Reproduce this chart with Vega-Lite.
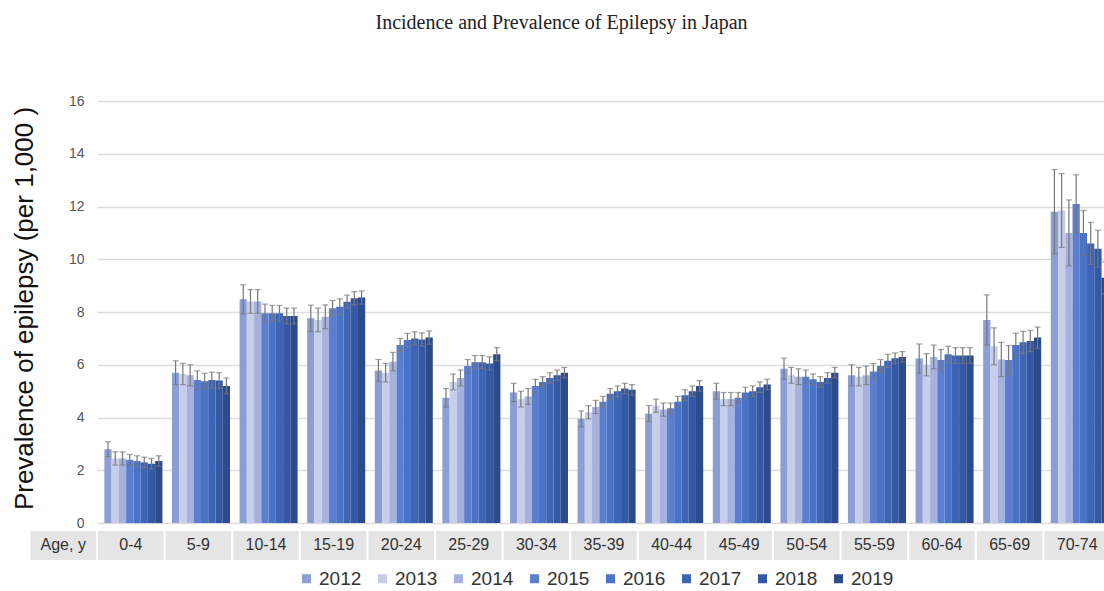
{
  "$schema": "https://vega.github.io/schema/vega-lite/v6.json",
  "width": 1007,
  "height": 459,
  "autosize": {"type": "none"},
  "padding": {"left": 97, "top": 101, "right": 0, "bottom": 31},
  "background": "white",
  "title": {
    "text": "Incidence and Prevalence of Epilepsy in Japan",
    "font": "Liberation Serif",
    "fontSize": 20,
    "fontWeight": "normal",
    "color": "#222222",
    "anchor": "middle",
    "dx": -39,
    "offset": 61
  },
  "config": {
    "view": {"stroke": null},
    "axis": {"labelFont": "Liberation Sans", "titleFont": "Liberation Sans"}
  },
  "resolve": {"scale": {"x": "independent"}},
  "datasets": {
    "ages": [
      {"age": "Age, y"}, {"age": "0-4"}, {"age": "5-9"}, {"age": "10-14"},
      {"age": "15-19"}, {"age": "20-24"}, {"age": "25-29"}, {"age": "30-34"},
      {"age": "35-39"}, {"age": "40-44"}, {"age": "45-49"}, {"age": "50-54"},
      {"age": "55-59"}, {"age": "60-64"}, {"age": "65-69"}, {"age": "70-74"}
    ],
    "prev": [
      {"age": "0-4", "year": "2012", "prevalence": 2.8, "lo": 2.52, "hi": 3.08},
      {"age": "0-4", "year": "2013", "prevalence": 2.45, "lo": 2.2, "hi": 2.7},
      {"age": "0-4", "year": "2014", "prevalence": 2.45, "lo": 2.2, "hi": 2.7},
      {"age": "0-4", "year": "2015", "prevalence": 2.4, "lo": 2.2, "hi": 2.6},
      {"age": "0-4", "year": "2016", "prevalence": 2.35, "lo": 2.15, "hi": 2.55},
      {"age": "0-4", "year": "2017", "prevalence": 2.3, "lo": 2.1, "hi": 2.5},
      {"age": "0-4", "year": "2018", "prevalence": 2.25, "lo": 2.05, "hi": 2.45},
      {"age": "0-4", "year": "2019", "prevalence": 2.35, "lo": 2.15, "hi": 2.55},
      {"age": "5-9", "year": "2012", "prevalence": 5.7, "lo": 5.25, "hi": 6.15},
      {"age": "5-9", "year": "2013", "prevalence": 5.65, "lo": 5.25, "hi": 6.05},
      {"age": "5-9", "year": "2014", "prevalence": 5.6, "lo": 5.2, "hi": 6.0},
      {"age": "5-9", "year": "2015", "prevalence": 5.42, "lo": 5.07, "hi": 5.77},
      {"age": "5-9", "year": "2016", "prevalence": 5.38, "lo": 5.08, "hi": 5.68},
      {"age": "5-9", "year": "2017", "prevalence": 5.42, "lo": 5.12, "hi": 5.72},
      {"age": "5-9", "year": "2018", "prevalence": 5.4, "lo": 5.1, "hi": 5.7},
      {"age": "5-9", "year": "2019", "prevalence": 5.2, "lo": 4.9, "hi": 5.5},
      {"age": "10-14", "year": "2012", "prevalence": 8.48, "lo": 7.93, "hi": 9.03},
      {"age": "10-14", "year": "2013", "prevalence": 8.4, "lo": 7.95, "hi": 8.85},
      {"age": "10-14", "year": "2014", "prevalence": 8.4, "lo": 7.95, "hi": 8.85},
      {"age": "10-14", "year": "2015", "prevalence": 7.95, "lo": 7.6, "hi": 8.3},
      {"age": "10-14", "year": "2016", "prevalence": 7.95, "lo": 7.65, "hi": 8.25},
      {"age": "10-14", "year": "2017", "prevalence": 7.95, "lo": 7.65, "hi": 8.25},
      {"age": "10-14", "year": "2018", "prevalence": 7.85, "lo": 7.55, "hi": 8.15},
      {"age": "10-14", "year": "2019", "prevalence": 7.85, "lo": 7.55, "hi": 8.15},
      {"age": "15-19", "year": "2012", "prevalence": 7.76, "lo": 7.26, "hi": 8.26},
      {"age": "15-19", "year": "2013", "prevalence": 7.7, "lo": 7.25, "hi": 8.15},
      {"age": "15-19", "year": "2014", "prevalence": 7.82, "lo": 7.37, "hi": 8.27},
      {"age": "15-19", "year": "2015", "prevalence": 8.14, "lo": 7.84, "hi": 8.44},
      {"age": "15-19", "year": "2016", "prevalence": 8.2, "lo": 7.9, "hi": 8.5},
      {"age": "15-19", "year": "2017", "prevalence": 8.39, "lo": 8.14, "hi": 8.64},
      {"age": "15-19", "year": "2018", "prevalence": 8.52, "lo": 8.27, "hi": 8.77},
      {"age": "15-19", "year": "2019", "prevalence": 8.55, "lo": 8.3, "hi": 8.8},
      {"age": "20-24", "year": "2012", "prevalence": 5.78, "lo": 5.36, "hi": 6.2},
      {"age": "20-24", "year": "2013", "prevalence": 5.7, "lo": 5.35, "hi": 6.05},
      {"age": "20-24", "year": "2014", "prevalence": 6.12, "lo": 5.77, "hi": 6.47},
      {"age": "20-24", "year": "2015", "prevalence": 6.75, "lo": 6.5, "hi": 7.0},
      {"age": "20-24", "year": "2016", "prevalence": 6.94, "lo": 6.69, "hi": 7.19},
      {"age": "20-24", "year": "2017", "prevalence": 7.0, "lo": 6.75, "hi": 7.25},
      {"age": "20-24", "year": "2018", "prevalence": 6.96, "lo": 6.71, "hi": 7.21},
      {"age": "20-24", "year": "2019", "prevalence": 7.03, "lo": 6.78, "hi": 7.28},
      {"age": "25-29", "year": "2012", "prevalence": 4.75, "lo": 4.4, "hi": 5.1},
      {"age": "25-29", "year": "2013", "prevalence": 5.35, "lo": 5.05, "hi": 5.65},
      {"age": "25-29", "year": "2014", "prevalence": 5.5, "lo": 5.2, "hi": 5.8},
      {"age": "25-29", "year": "2015", "prevalence": 5.95, "lo": 5.7, "hi": 6.2},
      {"age": "25-29", "year": "2016", "prevalence": 6.1, "lo": 5.85, "hi": 6.35},
      {"age": "25-29", "year": "2017", "prevalence": 6.1, "lo": 5.85, "hi": 6.35},
      {"age": "25-29", "year": "2018", "prevalence": 6.05, "lo": 5.8, "hi": 6.3},
      {"age": "25-29", "year": "2019", "prevalence": 6.4, "lo": 6.15, "hi": 6.65},
      {"age": "30-34", "year": "2012", "prevalence": 4.95, "lo": 4.6, "hi": 5.3},
      {"age": "30-34", "year": "2013", "prevalence": 4.7, "lo": 4.4, "hi": 5.0},
      {"age": "30-34", "year": "2014", "prevalence": 4.8, "lo": 4.5, "hi": 5.1},
      {"age": "30-34", "year": "2015", "prevalence": 5.2, "lo": 4.95, "hi": 5.45},
      {"age": "30-34", "year": "2016", "prevalence": 5.35, "lo": 5.15, "hi": 5.55},
      {"age": "30-34", "year": "2017", "prevalence": 5.5, "lo": 5.3, "hi": 5.7},
      {"age": "30-34", "year": "2018", "prevalence": 5.6, "lo": 5.4, "hi": 5.8},
      {"age": "30-34", "year": "2019", "prevalence": 5.7, "lo": 5.5, "hi": 5.9},
      {"age": "35-39", "year": "2012", "prevalence": 3.95, "lo": 3.65, "hi": 4.25},
      {"age": "35-39", "year": "2013", "prevalence": 4.2, "lo": 3.95, "hi": 4.45},
      {"age": "35-39", "year": "2014", "prevalence": 4.4, "lo": 4.15, "hi": 4.65},
      {"age": "35-39", "year": "2015", "prevalence": 4.6, "lo": 4.4, "hi": 4.8},
      {"age": "35-39", "year": "2016", "prevalence": 4.9, "lo": 4.7, "hi": 5.1},
      {"age": "35-39", "year": "2017", "prevalence": 5.0, "lo": 4.8, "hi": 5.2},
      {"age": "35-39", "year": "2018", "prevalence": 5.1, "lo": 4.9, "hi": 5.3},
      {"age": "35-39", "year": "2019", "prevalence": 5.05, "lo": 4.85, "hi": 5.25},
      {"age": "40-44", "year": "2012", "prevalence": 4.15, "lo": 3.85, "hi": 4.45},
      {"age": "40-44", "year": "2013", "prevalence": 4.45, "lo": 4.2, "hi": 4.7},
      {"age": "40-44", "year": "2014", "prevalence": 4.3, "lo": 4.05, "hi": 4.55},
      {"age": "40-44", "year": "2015", "prevalence": 4.35, "lo": 4.15, "hi": 4.55},
      {"age": "40-44", "year": "2016", "prevalence": 4.6, "lo": 4.4, "hi": 4.8},
      {"age": "40-44", "year": "2017", "prevalence": 4.85, "lo": 4.65, "hi": 5.05},
      {"age": "40-44", "year": "2018", "prevalence": 5.0, "lo": 4.8, "hi": 5.2},
      {"age": "40-44", "year": "2019", "prevalence": 5.2, "lo": 5.0, "hi": 5.4},
      {"age": "45-49", "year": "2012", "prevalence": 5.0, "lo": 4.7, "hi": 5.3},
      {"age": "45-49", "year": "2013", "prevalence": 4.7, "lo": 4.45, "hi": 4.95},
      {"age": "45-49", "year": "2014", "prevalence": 4.7, "lo": 4.45, "hi": 4.95},
      {"age": "45-49", "year": "2015", "prevalence": 4.75, "lo": 4.55, "hi": 4.95},
      {"age": "45-49", "year": "2016", "prevalence": 4.95, "lo": 4.75, "hi": 5.15},
      {"age": "45-49", "year": "2017", "prevalence": 5.0, "lo": 4.8, "hi": 5.2},
      {"age": "45-49", "year": "2018", "prevalence": 5.15, "lo": 4.95, "hi": 5.35},
      {"age": "45-49", "year": "2019", "prevalence": 5.25, "lo": 5.05, "hi": 5.45},
      {"age": "50-54", "year": "2012", "prevalence": 5.85, "lo": 5.45, "hi": 6.25},
      {"age": "50-54", "year": "2013", "prevalence": 5.6, "lo": 5.3, "hi": 5.9},
      {"age": "50-54", "year": "2014", "prevalence": 5.55, "lo": 5.25, "hi": 5.85},
      {"age": "50-54", "year": "2015", "prevalence": 5.55, "lo": 5.3, "hi": 5.8},
      {"age": "50-54", "year": "2016", "prevalence": 5.45, "lo": 5.25, "hi": 5.65},
      {"age": "50-54", "year": "2017", "prevalence": 5.35, "lo": 5.15, "hi": 5.55},
      {"age": "50-54", "year": "2018", "prevalence": 5.5, "lo": 5.3, "hi": 5.7},
      {"age": "50-54", "year": "2019", "prevalence": 5.7, "lo": 5.5, "hi": 5.9},
      {"age": "55-59", "year": "2012", "prevalence": 5.6, "lo": 5.2, "hi": 6.0},
      {"age": "55-59", "year": "2013", "prevalence": 5.55, "lo": 5.2, "hi": 5.9},
      {"age": "55-59", "year": "2014", "prevalence": 5.6, "lo": 5.25, "hi": 5.95},
      {"age": "55-59", "year": "2015", "prevalence": 5.75, "lo": 5.45, "hi": 6.05},
      {"age": "55-59", "year": "2016", "prevalence": 5.95, "lo": 5.7, "hi": 6.2},
      {"age": "55-59", "year": "2017", "prevalence": 6.15, "lo": 5.9, "hi": 6.4},
      {"age": "55-59", "year": "2018", "prevalence": 6.25, "lo": 6.05, "hi": 6.45},
      {"age": "55-59", "year": "2019", "prevalence": 6.3, "lo": 6.1, "hi": 6.5},
      {"age": "60-64", "year": "2012", "prevalence": 6.24, "lo": 5.69, "hi": 6.79},
      {"age": "60-64", "year": "2013", "prevalence": 6.0, "lo": 5.58, "hi": 6.42},
      {"age": "60-64", "year": "2014", "prevalence": 6.3, "lo": 5.85, "hi": 6.75},
      {"age": "60-64", "year": "2015", "prevalence": 6.18, "lo": 5.78, "hi": 6.58},
      {"age": "60-64", "year": "2016", "prevalence": 6.4, "lo": 6.1, "hi": 6.7},
      {"age": "60-64", "year": "2017", "prevalence": 6.35, "lo": 6.05, "hi": 6.65},
      {"age": "60-64", "year": "2018", "prevalence": 6.35, "lo": 6.05, "hi": 6.65},
      {"age": "60-64", "year": "2019", "prevalence": 6.35, "lo": 6.05, "hi": 6.65},
      {"age": "65-69", "year": "2012", "prevalence": 7.7, "lo": 6.75, "hi": 8.65},
      {"age": "65-69", "year": "2013", "prevalence": 6.7, "lo": 6.0, "hi": 7.4},
      {"age": "65-69", "year": "2014", "prevalence": 6.2, "lo": 5.55, "hi": 6.85},
      {"age": "65-69", "year": "2015", "prevalence": 6.18, "lo": 5.63, "hi": 6.73},
      {"age": "65-69", "year": "2016", "prevalence": 6.75, "lo": 6.3, "hi": 7.2},
      {"age": "65-69", "year": "2017", "prevalence": 6.85, "lo": 6.43, "hi": 7.27},
      {"age": "65-69", "year": "2018", "prevalence": 6.9, "lo": 6.5, "hi": 7.3},
      {"age": "65-69", "year": "2019", "prevalence": 7.03, "lo": 6.63, "hi": 7.43},
      {"age": "70-74", "year": "2012", "prevalence": 11.8, "lo": 10.2, "hi": 13.4},
      {"age": "70-74", "year": "2013", "prevalence": 11.85, "lo": 10.45, "hi": 13.25},
      {"age": "70-74", "year": "2014", "prevalence": 11.0, "lo": 9.75, "hi": 12.25},
      {"age": "70-74", "year": "2015", "prevalence": 12.1, "lo": 11.0, "hi": 13.2},
      {"age": "70-74", "year": "2016", "prevalence": 11.0, "lo": 10.15, "hi": 11.85},
      {"age": "70-74", "year": "2017", "prevalence": 10.6, "lo": 9.8, "hi": 11.4},
      {"age": "70-74", "year": "2018", "prevalence": 10.4, "lo": 9.7, "hi": 11.1},
      {"age": "70-74", "year": "2019", "prevalence": 9.3, "lo": 8.7, "hi": 9.9}
    ]
  },
  "layer": [
    {
      "data": {"name": "prev"},
      "layer": [
        {
          "mark": {"type": "bar", "clip": true},
          "encoding": {
            "y": {
              "field": "prevalence",
              "type": "quantitative",
              "scale": {"domain": [-1.4, 16], "nice": false, "zero": false},
              "axis": {
                "title": "Prevalence of epilepsy (per 1,000 )",
                "titleFontSize": 26,
                "titleFontWeight": "normal",
                "titleColor": "#111111",
                "titlePadding": 31,
                "titleY": 207,
                "values": [0, 2, 4, 6, 8, 10, 12, 14, 16],
                "labelFontSize": 14,
                "labelColor": "#555555",
                "labelPadding": 13,
                "domain": false,
                "ticks": false,
                "grid": true,
                "gridColor": "#dddddd",
                "gridWidth": 1.5
              }
            },
            "color": {
              "field": "year",
              "type": "nominal",
              "scale": {
                "domain": ["2012", "2013", "2014", "2015", "2016", "2017", "2018", "2019"],
                "range": ["#8c9fd4", "#c6cee9", "#a5b2de", "#5b7ecf", "#4873c6", "#3e64b4", "#3558a5", "#2c4b8c"]
              },
              "legend": {
                "title": null,
                "orient": "none",
                "direction": "horizontal",
                "legendX": 200,
                "legendY": 468,
                "symbolType": "square",
                "symbolSize": 81,
                "symbolStrokeWidth": 0,
                "labelFont": "Liberation Sans",
                "labelFontSize": 19,
                "labelColor": "#333333",
                "labelOffset": 3,
                "columnPadding": 11
              }
            }
          }
        },
        {
          "mark": {"type": "rule", "clip": true, "color": "#777777", "strokeWidth": 1.2},
          "encoding": {
            "y": {"field": "lo", "type": "quantitative"},
            "y2": {"field": "hi"}
          }
        },
        {
          "mark": {"type": "tick", "clip": true, "color": "#777777", "size": 6, "thickness": 1.2},
          "encoding": {"y": {"field": "lo", "type": "quantitative"}}
        },
        {
          "mark": {"type": "tick", "clip": true, "color": "#777777", "size": 6, "thickness": 1.2},
          "encoding": {"y": {"field": "hi", "type": "quantitative"}}
        }
      ],
      "encoding": {
        "x": {
          "field": "age",
          "type": "nominal",
          "axis": null,
          "scale": {
            "domain": ["0-4", "5-9", "10-14", "15-19", "20-24", "25-29", "30-34", "35-39", "40-44", "45-49", "50-54", "55-59", "60-64", "65-69", "70-74"],
            "range": [0, 1014],
            "paddingInner": 0,
            "paddingOuter": 0
          }
        },
        "xOffset": {
          "field": "year",
          "type": "nominal",
          "scale": {"paddingInner": 0, "paddingOuter": 0.66, "align": 0.77}
        }
      }
    },
    {
      "data": {"name": "ages"},
      "layer": [
        {
          "mark": {"type": "bar", "color": "#e5e5e5", "width": {"band": 0.97}},
          "encoding": {
            "y": {"datum": -0.3, "type": "quantitative"},
            "y2": {"datum": -1.4}
          }
        },
        {
          "mark": {"type": "text", "font": "Liberation Sans", "fontSize": 16, "color": "#333333", "baseline": "middle", "align": "center"},
          "encoding": {
            "y": {"datum": -0.85, "type": "quantitative"},
            "text": {"field": "age"}
          }
        }
      ],
      "encoding": {
        "x": {
          "field": "age",
          "type": "nominal",
          "axis": null,
          "scale": {
            "domain": ["Age, y", "0-4", "5-9", "10-14", "15-19", "20-24", "25-29", "30-34", "35-39", "40-44", "45-49", "50-54", "55-59", "60-64", "65-69", "70-74"],
            "range": [-67.6, 1014],
            "paddingInner": 0,
            "paddingOuter": 0
          }
        }
      }
    }
  ]
}
